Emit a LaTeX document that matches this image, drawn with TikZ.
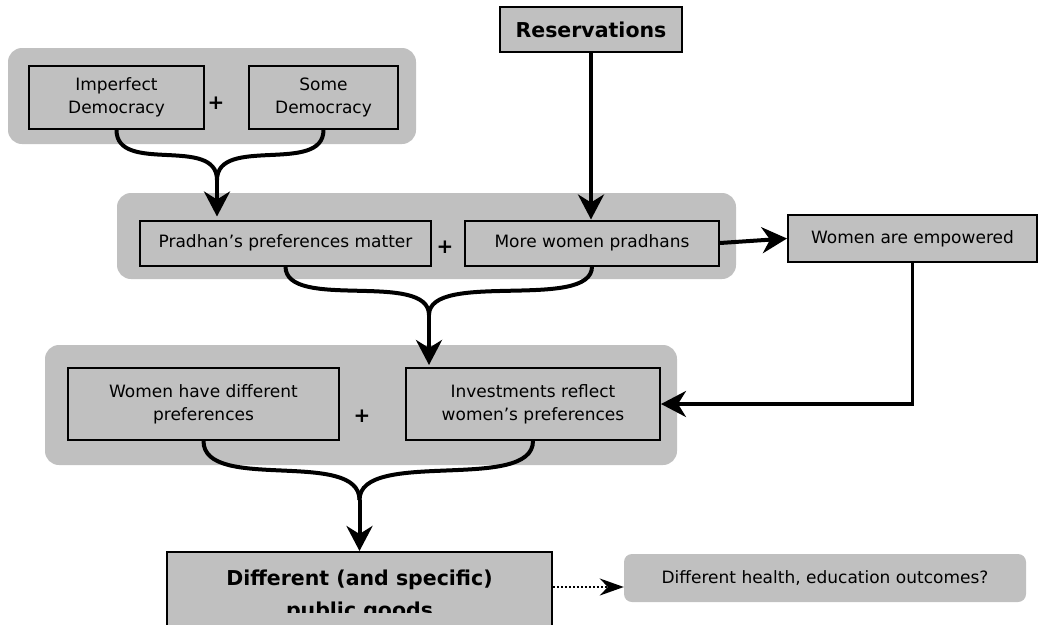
\documentclass[tikz,border=0pt]{standalone}
\usepackage{fontspec}
\setmainfont{DejaVu Sans}
\usepackage{tikz}
\usetikzlibrary{
  positioning,
  arrows.meta
}
\definecolor{boxgray}{RGB}{192,192,192}
\tikzset{
  >={Stealth[length=25pt,width=26pt,inset=8pt]},
  box/.style={draw, line width=2pt, fill=boxgray, align=center, inner sep=0pt,
    font=\fontsize{17}{23}\selectfont},
  bigbox/.style={box, font=\fontsize{20.5}{32}\selectfont\bfseries},
  group/.style={fill=boxgray, rounded corners=14pt, inner sep=0pt},
  plus/.style={inner sep=0pt, font=\fontsize{20}{20}\selectfont\bfseries},
  link/.style={line width=4pt},
  flow/.style={->, line width=4pt}
}

\begin{document}
\begin{tikzpicture}[x=1pt, y=-1pt]
    \useasboundingbox (0,0) rectangle (1039,624);
    \clip (0,0) rectangle (1039,624);
    \node[group, minimum width=408pt, minimum height=96pt] (grp1) at (212,96) {};
    \node[group, minimum width=619pt, minimum height=86pt] (grp2) at (426.5,236) {};
    \node[group, minimum width=632pt, minimum height=120pt] (grp3) at (361,405) {};

    \node[box, minimum width=175pt, minimum height=63pt] (imp) at (116.5,97.5) {Imperfect\\Democracy};
    \node[box, minimum width=149pt, minimum height=63pt, right=43pt of imp] (some) {Some\\Democracy};
    \node[plus] (p1) at (216,103) {+};
    \node[bigbox, minimum width=182pt, minimum height=45pt] (res) at (591,29.5) {Reservations};

    \node[box, minimum width=291pt, minimum height=45pt] (prad) at (285.5,243) {Pradhan’s preferences matter};
    \node[box, minimum width=254pt, minimum height=45pt, right=32pt of prad] (wom) {More women pradhans};
    \node[plus] (p2) at (445,247) {+};
    \node[box, minimum width=249pt, minimum height=47pt] (emp) at (912.5,238.5) {Women are empowered};

    \node[box, minimum width=271pt, minimum height=72pt] (diff) at (203.5,404) {Women have different\\preferences};
    \node[box, minimum width=254pt, minimum height=72pt, right=65pt of diff] (inv) {Investments reflect\\women’s preferences};
    \node[plus] (p3) at (362,416) {+};

    \node[bigbox, minimum width=385pt, minimum height=87pt] (goods) at (359.5,595.5) {Different (and specific)\\public goods};
    \fill[boxgray] (168,613) rectangle (551,626);
    \node[fill=boxgray, rounded corners=8pt, inner sep=0pt, minimum width=402pt, minimum height=48pt,
      font=\fontsize{17}{23}\selectfont] (outc) at (825,578) {Different health, education outcomes?};

    \coordinate (m1) at (217,180);
    \coordinate (m2) at (429,315);
    \coordinate (m3) at (359.5,500);

    \draw[link] (imp.south) .. controls +(0,45) and +(0,-45) .. (m1);
    \draw[link] (some.south) .. controls +(0,45) and +(0,-45) .. (m1);
    \draw[flow, shorten >=3pt] (m1) -- (m1 |- prad.north);

    \draw[flow] (res.south) -- (res.south |- wom.north);

    \draw[link] (prad.south) .. controls +(0,45) and +(0,-45) .. (m2);
    \draw[link] (wom.south) .. controls +(0,45) and +(0,-45) .. (m2);
    \draw[flow, shorten >=2pt] (m2) -- (m2 |- inv.north);

    \draw[flow] (wom.east) -- (emp.west);
    \draw[->, line width=3.5pt] (emp.south) |- (inv.east);

    \draw[link] (diff.south) .. controls +(0,52) and +(0,-52) .. (m3);
    \draw[link] (inv.south) .. controls +(0,52) and +(0,-52) .. (m3);
    \draw[flow] (m3) -- (goods.north);

    \draw[->, line width=2pt, dash pattern=on 2pt off 2pt, >={Stealth[length=24pt,width=17pt,inset=8pt]}]
      ([yshift=8.5pt]goods.east) -- ([yshift=8.5pt]goods.east -| outc.west);
\end{tikzpicture}
\end{document}
